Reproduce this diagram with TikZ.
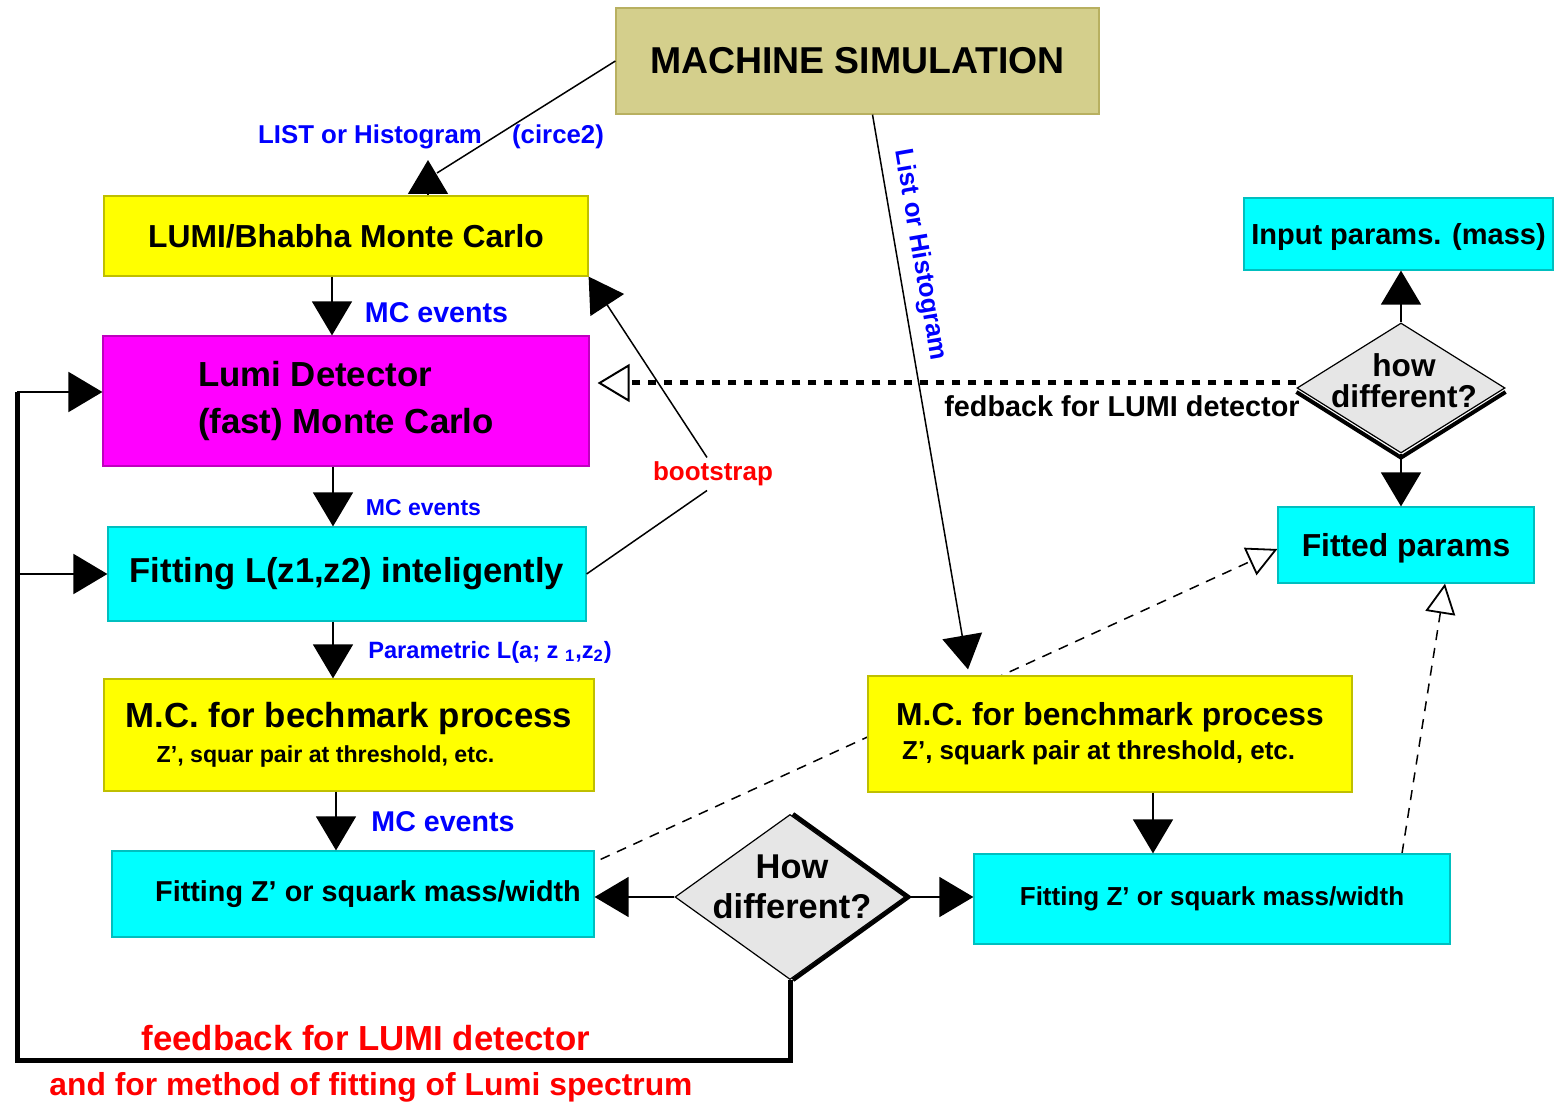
\documentclass[tikz,border=0pt]{standalone}
\usepackage{fontspec}
\setmainfont{Liberation Sans}
\usetikzlibrary{arrows.meta, positioning, shapes.geometric, backgrounds}
\definecolor{machfill}{HTML}{D4CF8C}
\definecolor{machstroke}{HTML}{B8B060}
\definecolor{boxyellow}{HTML}{FFFF00}
\definecolor{boxcyan}{HTML}{00FFFF}
\definecolor{boxmagenta}{HTML}{FF00FF}
\definecolor{diagray}{HTML}{E6E6E6}
\definecolor{lblblue}{HTML}{0000FF}
\definecolor{lblred}{HTML}{FF0000}
\newcommand{\bsz}[2]{\bfseries\fontsize{#1}{#2}\selectfont}

\begin{document}
\begin{tikzpicture}[
    x=0.5pt, y=-0.5pt,
    every node/.style={font=\bfseries},
    box/.style={rectangle, draw=#1!75!black, fill=#1, line width=0.6pt, inner sep=2pt, align=center},
    diam/.style={diamond, draw=black, fill=diagray, line width=0.6pt, inner sep=0pt},
    lbl/.style={inner sep=2pt},
    thinln/.style={line width=0.75pt},
    arr/.style={-{Triangle[length=17pt,width=20pt]}, line width=0.75pt},
    dashln/.style={line width=0.75pt, dash pattern=on 5pt off 4pt},
    opentip/.style={-{Triangle[open, length=15pt, width=15pt, line width=0.9pt]}},
    dotfb/.style={line width=2.5pt, dash pattern=on 4pt off 4pt, shorten >=4pt, -{Triangle[open, length=16pt, width=19pt, line width=1pt]}},
    loopln/.style={line width=2.5pt},
    shadowln/.style={line width=2pt}
]
\useasboundingbox (0,0) rectangle (1568,1106);

% boxes
\node[box=machfill, draw=machstroke, minimum width=241.5pt, minimum height=53pt, font=\bsz{18.7}{22}] (machine) at (857.5,61) {MACHINE SIMULATION};
\node[box=boxyellow, minimum width=242pt, minimum height=40pt, font=\bsz{15.9}{19}] (lumimc) at (346,236) {LUMI/Bhabha Monte Carlo};
\node[box=boxmagenta, minimum width=243pt, minimum height=65pt, align=left, font=\bsz{17.4}{23.5}] (lumidet) at (346,401) {Lumi Detector\\(fast) Monte Carlo};
\node[box=boxcyan, minimum width=239pt, minimum height=47pt, font=\bsz{17.3}{20}] (fitl) at (347,574) {Fitting L(z1,z2) inteligently};
\node[box=boxyellow, minimum width=245pt, minimum height=56pt, align=left, font=\bsz{17.4}{17.5}] (mcleft) at (349,735) {M.C. for bechmark process\\\hspace*{15.5pt}{\bsz{11.6}{17.5}Z’, squar pair at threshold, etc.}};
\node[box=boxcyan, minimum width=241pt, minimum height=43pt, font=\bsz{14.4}{17}] (fitzleft) at (353,894) {\hspace*{15pt}Fitting Z’ or squark mass/width};
\node[box=boxyellow, minimum width=242pt, minimum height=58pt, align=left, font=\bsz{15.9}{17}] (mcright) at (1110,734) {M.C. for benchmark process\\\hspace*{3pt}{\bsz{13}{17}Z’, squark pair at threshold, etc.}};
\node[box=boxcyan, minimum width=238pt, minimum height=45pt, font=\bsz{13}{16}] (fitzright) at (1212,899) {Fitting Z’ or squark mass/width};
\node[box=boxcyan, minimum width=154.5pt, minimum height=36pt, text depth=0pt, font=\bsz{14.5}{17}] (inparams) at (1398.5,234) {Input params. (mass)};
\node[box=boxcyan, minimum width=128pt, minimum height=38pt, text depth=0pt, font=\bsz{15.9}{19}] (fitted) at (1406,545) {Fitted params};

% decisions
\node[diam, minimum width=115pt, minimum height=82.5pt] (howl) at (790,897) {};
\node[lbl, align=center, font=\bsz{17.2}{20}] (howltxt) at (792,887) {How\\different?};
\node[diam, minimum width=104pt, minimum height=65pt] (howr) at (1401,388) {};
\node[lbl, align=center, font=\bsz{15.8}{15.5}] (howrtxt) at (1404,381) {how\\different?};

% labels
\node[lbl, text=lblblue, font=\bsz{12.9}{15}] (listlbl) at (370,137) {LIST or Histogram};
\node[lbl, text=lblblue, font=\bsz{12.9}{15}] (circlbl) at (558,137) {(circe2)};
\node[lbl, text=lblblue, font=\bsz{14.3}{17}] (ev1) at (436.5,313) {MC events};
\node[lbl, text=lblblue, font=\bsz{11.5}{14}] (ev2) at (423.5,508) {MC events};
\node[lbl, text=lblblue, font=\bsz{11.8}{14}] (paramlbl) at (490,652) {Parametric L(a; z \textsubscript{1},z\textsubscript{2})};
\node[lbl, text=lblblue, font=\bsz{14.3}{17}] (ev3) at (443,822) {MC events};
\node[lbl, text=lblred, font=\bsz{13}{15}] (bootlbl) at (713,474) {bootstrap};
\node[lbl, font=\bsz{14.4}{17}] (fblbl) at (1122,406) {fedback for LUMI detector};
\node[lbl, text=lblred, font=\bsz{17.4}{20}] (fb1) at (366,1038) {feedback for LUMI detector};
\node[lbl, text=lblred, font=\bsz{15.9}{19}] (fb2) at (371,1087) {and for method of fitting of Lumi spectrum};

% machine outputs
\coordinate (lhtip) at (428,160);
\draw[thinln] (machine.west) -- ([xshift=4.5pt,yshift=-6.5pt]lhtip);
\draw[arr] (lumimc.north -| lhtip) -- (lhtip);
\draw[arr] ([xshift=7.5pt]machine.south) -- node[sloped, above=3pt, pos=0.26, lbl, text=lblblue, font=\bsz{12.9}{15}] (histlbl) {List or Histogram} ([xshift=-71pt,yshift=3pt]mcright.north);

% left chain
\draw[arr] ([xshift=-7pt]lumimc.south) -- ([xshift=-7pt]lumimc.south |- lumidet.north);
\draw[arr] ([xshift=-6.5pt]lumidet.south) -- ([xshift=-6.5pt]lumidet.south |- fitl.north);
\draw[arr] ([xshift=-7pt]fitl.south) -- ([xshift=-7pt]fitl.south |- mcleft.north);
\draw[arr] ([xshift=-6.5pt]mcleft.south) -- ([xshift=-6.5pt]mcleft.south |- fitzleft.north);

% bootstrap
\draw[thinln] (fitl.east) -- ([xshift=-3pt]bootlbl.south);
\draw[arr] ([xshift=-3pt]bootlbl.north) -- (lumimc.south east);

% right side
\draw[arr] ([xshift=21.5pt]mcright.south) -- ([xshift=21.5pt]mcright.south |- fitzright.north);
\draw[arr] (howr.north) -- (howr.north |- inparams.south);
\draw[arr] (howr.south) -- (howr.south |- fitted.north);
\draw[arr] (howl.west) -- (howl.west -| fitzleft.east);
\draw[arr] (howl.east) -- (howl.east -| fitzright.west);
\draw[dotfb] ([yshift=2.5pt]howr.west) -- ([yshift=2.5pt]howr.west -| lumidet.east);

% feedback loop
\coordinate (fbcorner) at (17,1060);
\coordinate (fbtop) at (17,392);
\draw[loopln] (howl.south) |- (fbcorner) -- (fbtop);
\draw[arr, line width=1pt] (fbtop) -- (fbtop -| lumidet.west);
\draw[arr, line width=1pt] (fbcorner |- fitl.west) -- (fitl.west);

\begin{scope}[on background layer]
\draw[dashln, opentip] ([xshift=3pt,yshift=-4.5pt]fitzleft.north east) -- ([yshift=-2pt]fitted.west);
\draw[dashln, opentip] ([xshift=95pt]fitzright.north) -- ([xshift=19.5pt]fitted.south);
\draw[shadowln] ([xshift=1.5pt]howl.north) -- ([xshift=1.5pt]howl.east) -- ([xshift=1.5pt]howl.south);
\draw[shadowln] ([yshift=-2pt]howr.west) -- ([yshift=-2pt]howr.south) -- ([yshift=-2pt]howr.east);
\end{scope}

\end{tikzpicture}
\end{document}
